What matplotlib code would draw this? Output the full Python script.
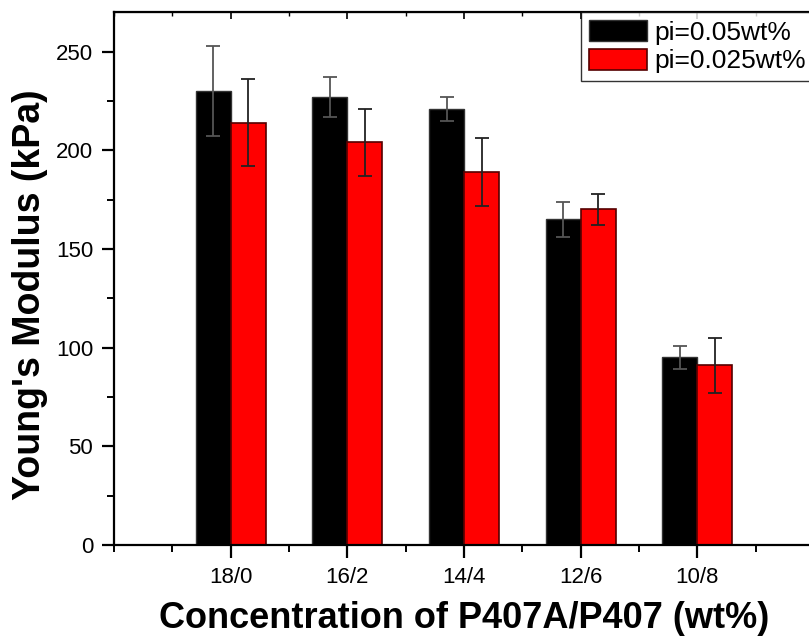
import numpy as np
import matplotlib
matplotlib.use("Agg")
import matplotlib.pyplot as plt
from matplotlib.ticker import MultipleLocator

plt.rcParams['font.family'] = ['Liberation Sans', 'DejaVu Sans']

# data
groups = ["18/0", "16/2", "14/4", "12/6", "10/8"]
hi_pi = [230, 227, 221, 165, 95]        # pi=0.05wt%
hi_err = [23, 10, 6, 9, 6]
lo_pi = [214, 204, 189, 170, 91]        # pi=0.025wt%
lo_err = [22, 17, 17, 8, 14]

fig = plt.figure(figsize=(8.09, 6.39), dpi=100)
ax = fig.add_axes([0.1409, 0.1471, 0.8653, 0.834])

x = np.arange(1, len(groups) + 1)
w = 0.3
ax.bar(x - w / 2, hi_pi, w, color='black', edgecolor='#333333', linewidth=1,
       label='pi=0.05wt%', zorder=2)
ax.bar(x + w / 2, lo_pi, w, color='#ff0000', edgecolor='#550000', linewidth=1.2,
       label='pi=0.025wt%', zorder=2)
ax.errorbar(x - w / 2, hi_pi, yerr=hi_err, fmt='none', ecolor='#555555',
            elinewidth=1.3, capsize=5, capthick=1.3, zorder=3)
ax.errorbar(x + w / 2, lo_pi, yerr=lo_err, fmt='none', ecolor='#222222',
            elinewidth=1.3, capsize=5, capthick=1.3, zorder=3)

ax.set_xlim(0, 6)
ax.set_ylim(0, 270)
ax.set_xticks(x)
ax.set_xticklabels(groups)
ax.xaxis.set_minor_locator(MultipleLocator(0.5))
ax.yaxis.set_major_locator(MultipleLocator(50))
ax.yaxis.set_minor_locator(MultipleLocator(25))

for s in ax.spines.values():
    s.set_linewidth(1.6)

ax.tick_params(axis='both', which='major', direction='out', length=9, width=1.6,
               labelsize=16, pad=6)
ax.tick_params(axis='both', which='minor', direction='out', length=5, width=1.4)
ax.tick_params(axis='x', which='major', pad=7)

# inward ticks along the top spine
top = ax.secondary_xaxis('top')
top.set_xticks(x)
top.xaxis.set_minor_locator(MultipleLocator(0.5))
top.tick_params(which='major', direction='in', length=5, width=1.2, labeltop=False)
top.tick_params(which='minor', direction='in', length=3, width=1.0)
top.set_xticklabels([])

ax.set_ylabel("Young's Modulus (kPa)", fontsize=27, fontweight='bold')
ax.yaxis.set_label_coords(-0.094, 0.47)
ax.set_xlabel("Concentration of P407A/P407 (wt%)", fontsize=26, fontweight='bold',
              labelpad=9)

leg = ax.legend(loc='upper right', fontsize=19, frameon=True, fancybox=False,
                borderaxespad=0, handlelength=2.2, handleheight=0.85,
                handletextpad=0.3, labelspacing=0.15, borderpad=0.3)
leg.get_frame().set_edgecolor('black')
leg.get_frame().set_linewidth(1.0)

fig.savefig("out.png", dpi=100)
